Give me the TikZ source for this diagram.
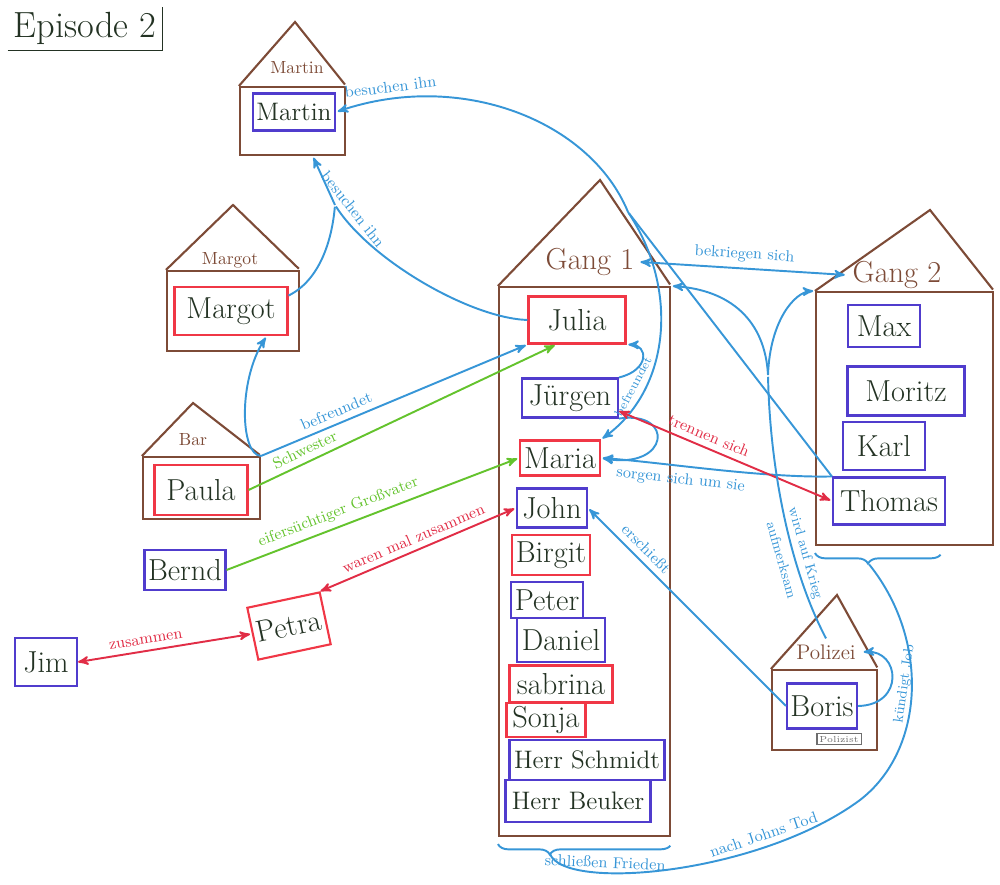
\documentclass[tikz,border=0pt]{standalone}
\usepackage{tikz}
\usetikzlibrary{arrows, fit, decorations.pathreplacing}
\usepackage{color}

\definecolor{housebrown}{RGB}{125,75,55}
\definecolor{boxblue}{RGB}{80,60,205}
\definecolor{boxred}{RGB}{240,55,70}
\definecolor{penblue}{RGB}{55,150,215}
\definecolor{pengreen}{RGB}{100,195,45}
\definecolor{penred}{RGB}{225,45,70}
\definecolor{ink}{RGB}{35,50,35}
\definecolor{grau}{RGB}{110,110,110}

\begin{document}
\begin{tikzpicture}[>=stealth',shorten >=1pt,auto,x=0.02cm,y=-0.02cm,
		house/.style={draw=housebrown, line width=1.2pt},
		haus/.style={house, inner sep=0pt},
		dach/.style={text=housebrown},
		rot/.style={draw=boxred, line width=1.2pt, text=ink, font=\LARGE, inner sep=2pt},
		blau/.style={draw=boxblue, line width=1.2pt, text=ink, font=\LARGE, inner sep=2pt},
		besuch/.style={->, color=penblue, line width=1.1pt, nodes={font=\small, sloped}},
		familie/.style={->, color=pengreen, line width=1.1pt, nodes={font=\small, sloped}},
		liebe/.style={<->, color=penred, line width=1.1pt, nodes={font=\small, sloped}},
		friede/.style={color=penblue, line width=1.1pt, nodes={font=\small, sloped}}]
		
		\useasboundingbox (0,0) rectangle (1000,885);
		
		\node (title) at (85,28) [font=\huge, text=ink] {Episode 2};
		\draw[ink, line width=1pt] (title.south west) -- (title.south east) -- (title.north east);
		
		\node[haus, fit={(240,87) (345,155)}] (martinH) {};
		\coordinate (martinTop) at (295,22);
		\draw[house] (martinH.north west) -- (martinTop) -- (martinH.north east);
		\node[dach] (martinDach) at (297,68) {Martin};
		
		\node[haus, fit={(167,271) (299,351)}] (margotH) {};
		\coordinate (margotTop) at (233,205);
		\draw[house] (margotH.north west) -- (margotTop) -- (margotH.north east);
		\node[dach] (margotDach) at (230,260) {Margot};
		
		\node[haus, fit={(143,457) (260,519)}] (bar) {};
		\coordinate (barTop) at (193,403);
		\draw[house] (bar.north west) -- (barTop) -- (bar.north east);
		\node[dach] (barDach) at (193,440) {Bar};
		
		\node[haus, fit={(772,670) (877,750)}] (polizei) {};
		\coordinate (polizeiTop) at (837,595);
		\draw[house] (polizei.north west) -- (polizeiTop) -- (polizei.north east);
		\node[dach, font=\large] (polDach) at (826,652) {Polizei};
		
		\node[haus, fit={(499,287) (670,836)}] (gangA) {};
		\coordinate (gangATop) at (600,180);
		\draw[house] (gangA.north west) -- (gangATop) -- (gangA.north east);
		\node[dach, font=\LARGE] (gangAname) at (590,262) {Gang 1};
		
		\node[haus, fit={(816,292) (993,545)}] (gangB) {};
		\coordinate (gangBTop) at (930,210);
		\draw[house] (gangB.north west) -- (gangBTop) -- (gangB.north east);
		\node[dach, font=\LARGE] (gangBname) at (897,275) {Gang 2};
		
		\node[blau, font=\Large, minimum width=1.64cm, minimum height=0.74cm] (martin) at (294,112) {Martin};
		\node[rot, minimum width=2.26cm, minimum height=0.96cm] (margot) at (231,311) {Margot};
		\node[rot, minimum width=1.86cm, minimum height=1cm] (paula) at (201,490) {Paula};
		
		\node[rot, minimum width=1.94cm, minimum height=0.94cm] (julia) at (577,320) {Julia};
		\node[blau, minimum width=1.92cm, minimum height=0.78cm] (jurgen) at (570,398) {Jürgen};
		\node[rot, minimum width=1.6cm, minimum height=0.7cm] (maria) at (560,458) {Maria};
		\node[blau, minimum width=1.4cm, minimum height=0.78cm] (john) at (552,508) {John};
		\node[rot, minimum width=1.54cm, minimum height=0.8cm] (birgit) at (551,555) {Birgit};
		\node[blau, minimum width=1.28cm, minimum height=0.72cm] (peter) at (547,600) {Peter};
		\node[blau, minimum width=1.76cm, minimum height=0.88cm] (daniel) at (561,640) {Daniel};
		\node[rot, minimum width=2.06cm, minimum height=0.74cm] (sabrina) at (561,684) {sabrina};
		\node[rot, minimum width=1.58cm, minimum height=0.68cm] (sonja) at (546,720) {Sonja};
		\node[blau, font=\Large, minimum width=3.1cm, minimum height=0.8cm] (schmidt) at (587,760) {Herr Schmidt};
		\node[blau, font=\Large, minimum width=2.9cm, minimum height=0.84cm] (beuker) at (578,801) {Herr Beuker};
		
		\node[blau, minimum width=1.44cm, minimum height=0.84cm] (max) at (884,326) {Max};
		\node[blau, minimum width=2.34cm, minimum height=0.98cm] (moritz) at (906,391) {Moritz};
		\node[blau, minimum width=1.64cm, minimum height=0.96cm] (karl) at (884,446) {Karl};
		\node[blau, minimum width=2.24cm, minimum height=0.94cm] (thomas) at (889,501) {Thomas};
		
		\node[blau, minimum width=1.6cm, minimum height=0.8cm] (bernd) at (185,570) {Bernd};
		\node[rot, minimum width=1.48cm, minimum height=1.06cm, rotate=12] (petra) at (289,626) {Petra};
		\node[blau, minimum width=1.24cm, minimum height=0.96cm] (jim) at (46,662) {Jim};
		\node[blau, minimum width=1.38cm, minimum height=0.9cm] (boris) at (822,706) {Boris};
		\node[draw=grau, line width=0.8pt, font=\tiny, text=grau, inner sep=1.5pt] (polizist) at (839,739) {Polizist};
		
		\coordinate (jTop) at (628,212);
		\coordinate (jMar) at (335,205);
		\coordinate (jPol) at (768,375);
		\coordinate (jFa) at (550,854);
		\coordinate (jFb) at (868,563);
		
		\draw[besuch] (jTop) .. controls (590,120) and (460,70) .. (martin.east) node[pos=0.85, above] {besuchen ihn};
		\draw[besuch, -] (thomas.north west) -- (jTop);
		\draw[besuch] (jTop) .. controls (680,290) and (670,390) .. (maria.north east) node[pos=0.74, above, font=\scriptsize] {befreundet};
		\draw[besuch] (jurgen.north east) .. controls (650,370) and (648,345) .. (julia.south east);
		\draw[besuch] (jurgen.south east) .. controls (675,410) and (670,470) .. (maria.east);
		\draw[besuch] (thomas.north west) .. controls (760,478) and (660,462) .. (maria.east) node[pos=0.62, below] {sorgen sich um sie};
		
		\draw[besuch, -] (julia.west) .. controls (470,318) and (370,260) .. (jMar) node[pos=0.93, above] {besuchen ihn};
		\draw[besuch, -] (margot.15) .. controls (320,280) and (332,240) .. (jMar);
		\draw[besuch] (jMar) -- (martinH.-60);
		
		\draw[besuch] (bar.north east) -- (julia.south west) node[pos=0.3, above] {befreundet};
		\draw[besuch] (bar.north east) .. controls (240,455) and (238,380) .. (margot.-35);
		\draw[familie] (paula.east) -- (julia.-130) node[pos=0.2, above] {Schwester};
		\draw[familie] (bernd.east) -- (maria.west) node[pos=0.4, above] {eifersüchtiger Großvater};
		
		\draw[liebe] (petra.north east) -- (john.west) node[midway, above] {waren mal zusammen};
		\draw[liebe] (jim.east) -- (petra.west) node[pos=0.4, above] {zusammen};
		\draw[liebe] (jurgen.-15) -- (thomas.west) node[pos=0.4, above] {trennen sich};
		
		\draw[besuch, <->] (gangAname.east) -- (gangBname.west) node[midway, above] {bekriegen sich};
		\draw[besuch, -] (polDach.north) .. controls (790,570) and (770,470) .. (jPol) node[pos=0.35, anchor=center, align=center, font=\footnotesize] {wird auf Krieg\\[5pt]aufmerksam};
		\draw[besuch] (jPol) .. controls (765,320) and (730,290) .. (gangA.north east);
		\draw[besuch] (jPol) .. controls (770,320) and (795,292) .. (gangB.north west);
		\draw[besuch] (boris.west) -- (john.east) node[pos=0.75, above] {erschießt};
		\draw[besuch] (boris.east) .. controls (905,705) and (900,650) .. (polDach.east) node[pos=0.45, below, font=\footnotesize] {kündigt Job};
		
		\draw[friede, decorate, decoration={brace, mirror, amplitude=6pt, aspect=0.3}] ([yshift=-4pt]gangA.south west) -- ([yshift=-4pt]gangA.south east);
		\draw[friede, decorate, decoration={brace, mirror, amplitude=6pt, aspect=0.42}] ([yshift=-4pt]gangB.south west) -- ([xshift=-30pt,yshift=-4pt]gangB.south east);
		\draw[friede] (jFa) .. controls (565,892) and (760,874) .. (860,800) node[pos=0.3, above=-1pt] {schließen Frieden} node[pos=0.74, above] {nach Johns Tod} .. controls (925,750) and (930,640) .. (jFb);
		
\end{tikzpicture}
\end{document}
